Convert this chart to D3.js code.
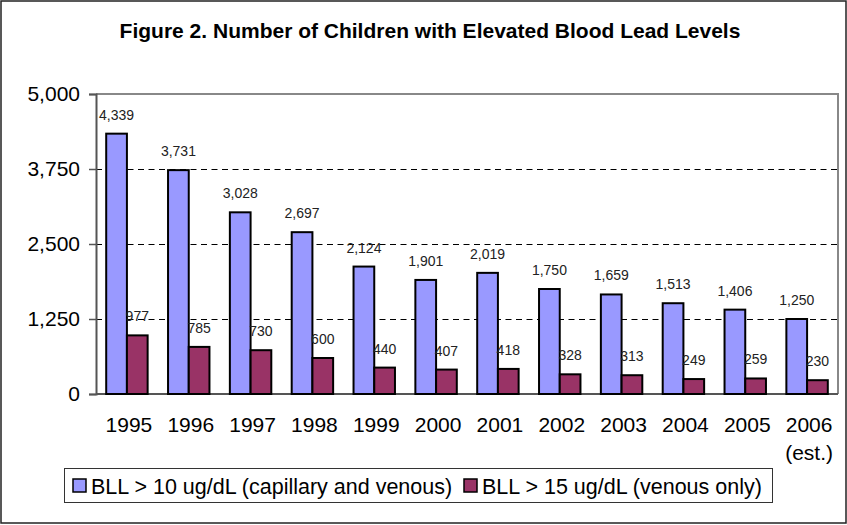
<!DOCTYPE html>
<html>
<head>
<meta charset="utf-8">
<script src="https://cdn.jsdelivr.net/npm/d3@7"></script>
<style>
  body { margin: 0; background: #fff; }
  text { font-family: "Liberation Sans", Arial, sans-serif; }
</style>
</head>
<body>
<svg id="chart" width="847" height="525"></svg>
<script>
var years = ["1995", "1996", "1997", "1998", "1999", "2000", "2001", "2002", "2003", "2004", "2005", "2006"];
var yearNotes = ["", "", "", "", "", "", "", "", "", "", "", "(est.)"];
var capillaryVenous = [4339, 3731, 3028, 2697, 2124, 1901, 2019, 1750, 1659, 1513, 1406, 1250];
var venousOnly = [977, 785, 730, 600, 440, 407, 418, 328, 313, 249, 259, 230];
var seriesNames = ["BLL > 10 ug/dL (capillary and venous)", "BLL > 15 ug/dL (venous only)"];
var seriesColors = ["#9999ff", "#993366"];
var yTicks = [0, 1250, 2500, 3750, 5000];
var title = "Figure 2. Number of Children with Elevated Blood Lead Levels";

var plotLeft = 96, plotRight = 838, plotTop = 94, plotBottom = 394;
var svg = d3.select("#chart");
var fmt = d3.format(",");

// outer frame
svg.append("rect")
  .attr("x", 1).attr("y", 1)
  .attr("width", 845).attr("height", 522)
  .attr("fill", "#fff")
  .attr("stroke", "#222")
  .attr("stroke-width", 1.5);

svg.append("text")
  .attr("x", 430).attr("y", 38)
  .attr("text-anchor", "middle")
  .style("font-size", "21px")
  .style("font-weight", "bold")
  .text(title);

var x0 = d3.scaleBand()
  .domain(years)
  .range([plotLeft, plotRight])
  .paddingInner(0.33)
  .paddingOuter(0.165);

var x1 = d3.scaleBand()
  .domain([0, 1])
  .range([0, x0.bandwidth()]);

var y = d3.scaleLinear()
  .domain([0, 5000])
  .range([plotBottom, plotTop]);

// grid lines
svg.append("g").selectAll("line")
  .data(yTicks.filter(function(d) { return d > 0 && d < 5000; }))
  .enter().append("line")
  .attr("x1", plotLeft).attr("x2", plotRight)
  .attr("y1", function(d) { return Math.round(y(d)) + 0.5; })
  .attr("y2", function(d) { return Math.round(y(d)) + 0.5; })
  .attr("stroke", "#000")
  .attr("stroke-width", 1)
  .attr("stroke-dasharray", "6,4.5");

// plot frame top/right
svg.append("path")
  .attr("d", "M" + plotLeft + "," + plotTop + "H" + plotRight + "V" + plotBottom)
  .attr("fill", "none")
  .attr("stroke", "#888")
  .attr("stroke-width", 2);

// y axis
var yAxis = svg.append("g")
  .attr("transform", "translate(" + plotLeft + ",0)")
  .call(d3.axisLeft(y).tickValues(yTicks).tickFormat(fmt).tickSize(7).tickPadding(9));
yAxis.select(".domain").attr("stroke", "#555").attr("stroke-width", 2);
yAxis.selectAll(".tick line").attr("stroke", "#555").attr("stroke-width", 1.5);
yAxis.selectAll(".tick text")
  .style("font-size", "21px")
  .style("font-family", "'Liberation Sans', Arial, sans-serif")
  .attr("fill", "#000");

// x axis line
svg.append("line")
  .attr("x1", plotLeft).attr("x2", plotRight)
  .attr("y1", plotBottom).attr("y2", plotBottom)
  .attr("stroke", "#555")
  .attr("stroke-width", 2);

var rows = years.map(function(yr, i) {
  return { year: yr, values: [capillaryVenous[i], venousOnly[i]] };
});

var groups = svg.append("g").selectAll("g")
  .data(rows)
  .enter().append("g")
  .attr("transform", function(d) { return "translate(" + x0(d.year) + ",0)"; });

groups.selectAll("rect")
  .data(function(d) { return d.values.map(function(v, k) { return { k: k, v: v }; }); })
  .enter().append("rect")
  .attr("x", function(d) { return x1(d.k); })
  .attr("width", x1.bandwidth())
  .attr("y", function(d) { return y(d.v); })
  .attr("height", function(d) { return plotBottom - y(d.v); })
  .attr("fill", function(d) { return seriesColors[d.k]; })
  .attr("stroke", "#000")
  .attr("stroke-width", 2);

groups.selectAll("text.val")
  .data(function(d) { return d.values.map(function(v, k) { return { k: k, v: v }; }); })
  .enter().append("text")
  .attr("class", "val")
  .attr("x", function(d) { return x1(d.k) + x1.bandwidth() / 2; })
  .attr("y", function(d) { return y(d.v) - 14; })
  .attr("text-anchor", "middle")
  .style("font-size", "14px")
  .attr("fill", "#222")
  .text(function(d) { return fmt(d.v); });

// x labels
svg.append("g").selectAll("text")
  .data(years)
  .enter().append("text")
  .attr("x", function(d) { return x0(d) + x0.bandwidth() / 2 + 2; })
  .attr("y", 432)
  .attr("text-anchor", "middle")
  .style("font-size", "21px")
  .text(function(d) { return d; });

svg.append("g").selectAll("text")
  .data(years.filter(function(d, i) { return yearNotes[i]; }))
  .enter().append("text")
  .attr("x", function(d) { return x0(d) + x0.bandwidth() / 2 + 2; })
  .attr("y", 460)
  .attr("text-anchor", "middle")
  .style("font-size", "21px")
  .text(function(d) { return yearNotes[years.indexOf(d)]; });

// legend
var legend = svg.append("g");
legend.append("rect")
  .attr("x", 64.5).attr("y", 468.5)
  .attr("width", 708).attr("height", 34)
  .attr("fill", "#fff")
  .attr("stroke", "#333")
  .attr("stroke-width", 1);

var lx = [73, 464];
seriesNames.forEach(function(name, i) {
  legend.append("rect")
    .attr("x", lx[i]).attr("y", 479)
    .attr("width", 13).attr("height", 13)
    .attr("fill", seriesColors[i])
    .attr("stroke", "#000")
    .attr("stroke-width", 1.5);
  legend.append("text")
    .attr("x", lx[i] + 18).attr("y", 494)
    .style("font-size", "21.5px")
    .text(name);
});
</script>
</body>
</html>
